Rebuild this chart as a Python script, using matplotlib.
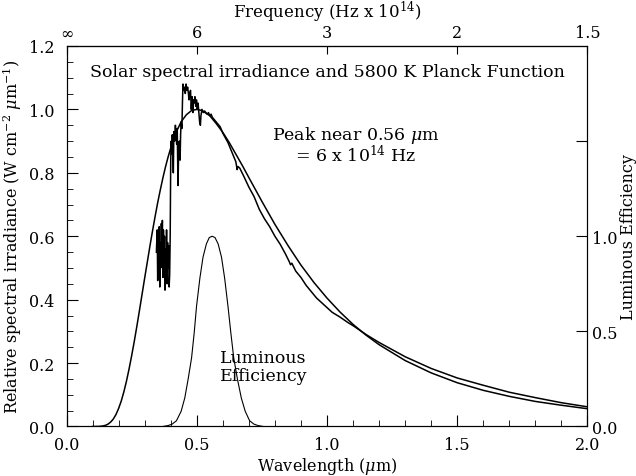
import matplotlib
matplotlib.use("Agg")
from matplotlib import pyplot as plt
from matplotlib.ticker import MultipleLocator

plt.rcParams['font.family'] = ['DejaVu Serif']
plt.rcParams['mathtext.fontset'] = 'dejavuserif'

# Planck function, 5800 K, normalised to peak
planck_wl = [0.10, 0.12, 0.13, 0.14, 0.15, 0.16, 0.17, 0.18, 0.19, 0.20,
             0.21, 0.22, 0.23, 0.24, 0.25, 0.26, 0.27, 0.28, 0.29, 0.30,
             0.31, 0.32, 0.33, 0.34, 0.35, 0.36, 0.37, 0.38, 0.39, 0.40,
             0.42, 0.44, 0.46, 0.48, 0.50, 0.52, 0.55, 0.575, 0.60, 0.625,
             0.65, 0.675, 0.70, 0.75, 0.80, 0.85, 0.90, 0.95, 1.00, 1.05,
             1.10, 1.15, 1.20, 1.30, 1.40, 1.50, 1.60, 1.70, 1.80, 1.90, 2.00]
planck_val = [0.0, 0.0002, 0.0006, 0.0017, 0.0038, 0.0078, 0.0144, 0.024, 0.038, 0.057,
              0.080, 0.109, 0.1425, 0.181, 0.223, 0.268, 0.316, 0.366, 0.417, 0.468,
              0.518, 0.568, 0.616, 0.662, 0.706, 0.746, 0.784, 0.819, 0.850, 0.878,
              0.926, 0.961, 0.983, 0.9965, 1.000, 0.9965, 0.980, 0.955, 0.9275, 0.895,
              0.859, 0.823, 0.785, 0.710, 0.6375, 0.571, 0.509, 0.454, 0.405, 0.361,
              0.322, 0.288, 0.258, 0.208, 0.169, 0.138, 0.114, 0.095, 0.079, 0.067, 0.056]

# measured solar spectrum (same normalisation)
solar_wl = [0.345, 0.348, 0.350, 0.352, 0.354, 0.356, 0.358, 0.360, 0.362, 0.364,
            0.366, 0.368, 0.370, 0.372, 0.374, 0.376, 0.378, 0.380, 0.382, 0.384,
            0.386, 0.388, 0.390, 0.392, 0.394, 0.396, 0.398, 0.400, 0.402, 0.404,
            0.406, 0.408, 0.410, 0.412, 0.415, 0.418, 0.420, 0.423, 0.425, 0.428,
            0.430, 0.433, 0.436, 0.438, 0.440, 0.443, 0.445, 0.447, 0.450, 0.453,
            0.456, 0.459, 0.462, 0.465, 0.468, 0.470, 0.473, 0.476, 0.479, 0.482,
            0.485, 0.487, 0.490, 0.493, 0.496, 0.499, 0.502, 0.505, 0.508, 0.511,
            0.514, 0.516, 0.520, 0.525, 0.530, 0.535, 0.540, 0.545, 0.550, 0.555,
            0.560, 0.570, 0.580, 0.590, 0.600, 0.610, 0.620, 0.630, 0.640, 0.650,
            0.655, 0.658, 0.665, 0.680, 0.700, 0.720, 0.740, 0.760, 0.780, 0.800,
            0.820, 0.840, 0.855, 0.860, 0.865, 0.880, 0.900, 0.920, 0.940, 0.960,
            0.980, 1.000, 1.020, 1.050, 1.080, 1.100, 1.150, 1.200, 1.300, 1.400,
            1.500, 1.600, 1.700, 1.800, 1.900, 2.000]
solar_val = [0.55, 0.62, 0.46, 0.60, 0.52, 0.63, 0.44, 0.58, 0.50, 0.64,
             0.55, 0.65, 0.47, 0.62, 0.53, 0.60, 0.43, 0.56, 0.48, 0.62,
             0.45, 0.58, 0.50, 0.57, 0.44, 0.48, 0.60, 0.84, 0.90, 0.86,
             0.92, 0.88, 0.80, 0.93, 0.90, 0.95, 0.92, 0.89, 0.94, 0.76,
             0.85, 0.90, 0.84, 0.92, 0.96, 0.94, 1.02, 1.08, 1.06, 1.07,
             1.05, 1.08, 1.06, 1.07, 1.05, 1.03, 1.05, 1.06, 1.00, 1.04,
             0.99, 1.03, 1.02, 1.04, 1.01, 1.03, 1.00, 1.02, 0.99, 0.96,
             0.95, 0.98, 1.00, 0.99, 0.995, 0.99, 0.985, 0.99, 0.98, 0.985,
             0.975, 0.965, 0.955, 0.945, 0.925, 0.91, 0.895, 0.875, 0.855, 0.835,
             0.81, 0.82, 0.815, 0.79, 0.755, 0.725, 0.685, 0.655, 0.63, 0.60,
             0.575, 0.545, 0.52, 0.51, 0.515, 0.49, 0.47, 0.445, 0.425, 0.405,
             0.39, 0.375, 0.36, 0.345, 0.328, 0.318, 0.29, 0.265, 0.22, 0.183,
             0.153, 0.130, 0.108, 0.091, 0.075, 0.062]

# luminous efficiency of the eye (right axis)
lum_wl = [0.37, 0.39, 0.405, 0.422, 0.44, 0.454, 0.467, 0.480, 0.490, 0.499,
          0.512, 0.524, 0.537, 0.548, 0.559, 0.570, 0.582, 0.595, 0.607, 0.620,
          0.631, 0.642, 0.656, 0.671, 0.686, 0.703, 0.720, 0.735, 0.755]
lum_val = [0.0, 0.005, 0.012, 0.03, 0.08, 0.15, 0.25, 0.36, 0.49, 0.63,
           0.78, 0.89, 0.96, 0.993, 1.0, 0.993, 0.96, 0.89, 0.78, 0.63,
           0.49, 0.36, 0.25, 0.15, 0.08, 0.03, 0.012, 0.005, 0.0]

freq_pos = [0.0, 0.5, 1.0, 1.5, 2.0]
freq_labels = [r"$\infty$", "6", "3", "2", "1.5"]

fig = plt.figure(figsize=(6.36, 4.77), dpi=100)
ax = fig.add_axes([0.1046, 0.1038, 0.8191, 0.7977])

ax.plot(planck_wl, planck_val, color="black", linewidth=1.1)
ax.plot(solar_wl, solar_val, color="black", linewidth=1.1)

ax.set_xlim(0, 2.0)
ax.set_ylim(0, 1.2)
ax.xaxis.set_major_locator(MultipleLocator(0.5))
ax.xaxis.set_minor_locator(MultipleLocator(0.1))
ax.yaxis.set_major_locator(MultipleLocator(0.2))
ax.yaxis.set_minor_locator(MultipleLocator(0.05))
ax.xaxis.set_major_formatter(lambda v, p: f"{v:.1f}")
ax.yaxis.set_major_formatter(lambda v, p: f"{v:.1f}")
ax.tick_params(which="both", direction="in", top=False, right=False, labelsize=11.5)
ax.tick_params(which="major", length=8, width=0.8)
ax.tick_params(which="minor", length=4, width=0.6)
ax.tick_params(axis="x", which="major", pad=7)
ax.tick_params(axis="y", which="major", pad=9)
ax.set_xlabel(r"Wavelength ($\mu$m)", fontsize=11.5, labelpad=1)
ax.set_ylabel(r"Relative spectral irradiance (W cm$^{-2}$ $\mu$m$^{-1}$)", fontsize=11.5,
              labelpad=3)

# luminous efficiency
ax2 = ax.twinx()
ax2.plot(lum_wl, lum_val, color="black", linewidth=0.8)
ax2.set_ylim(0, 2.0)
ax2.set_yticks([0.0, 0.5, 1.0, 1.5], labels=["0.0", "0.5", "1.0", ""])
ax2.tick_params(direction="in", length=8, width=0.8, labelsize=11.5, pad=3)
ax2.set_ylabel("Luminous Efficiency", fontsize=11.5, labelpad=2)

# frequency axis on top
top = ax.secondary_xaxis("top")
top.set_xticks(freq_pos, labels=freq_labels)
top.tick_params(direction="in", length=6, width=0.8, labelsize=11.5)
top.set_xlabel(r"Frequency (Hz x 10$^{14}$)", fontsize=12, labelpad=5)

ax.text(1.0, 1.118, "Solar spectral irradiance and 5800 K Planck Function",
        ha="center", va="center", fontsize=12.5)
ax.text(1.11, 0.89, "Peak near 0.56 $\\mu$m\n= 6 x 10$^{14}$ Hz",
        ha="center", va="center", fontsize=12.5, linespacing=0.95)
ax.text(0.59, 0.19, "Luminous\nEfficiency", ha="left", va="center",
        fontsize=12.5, linespacing=1.05)

fig.savefig("out.png", dpi=100)
